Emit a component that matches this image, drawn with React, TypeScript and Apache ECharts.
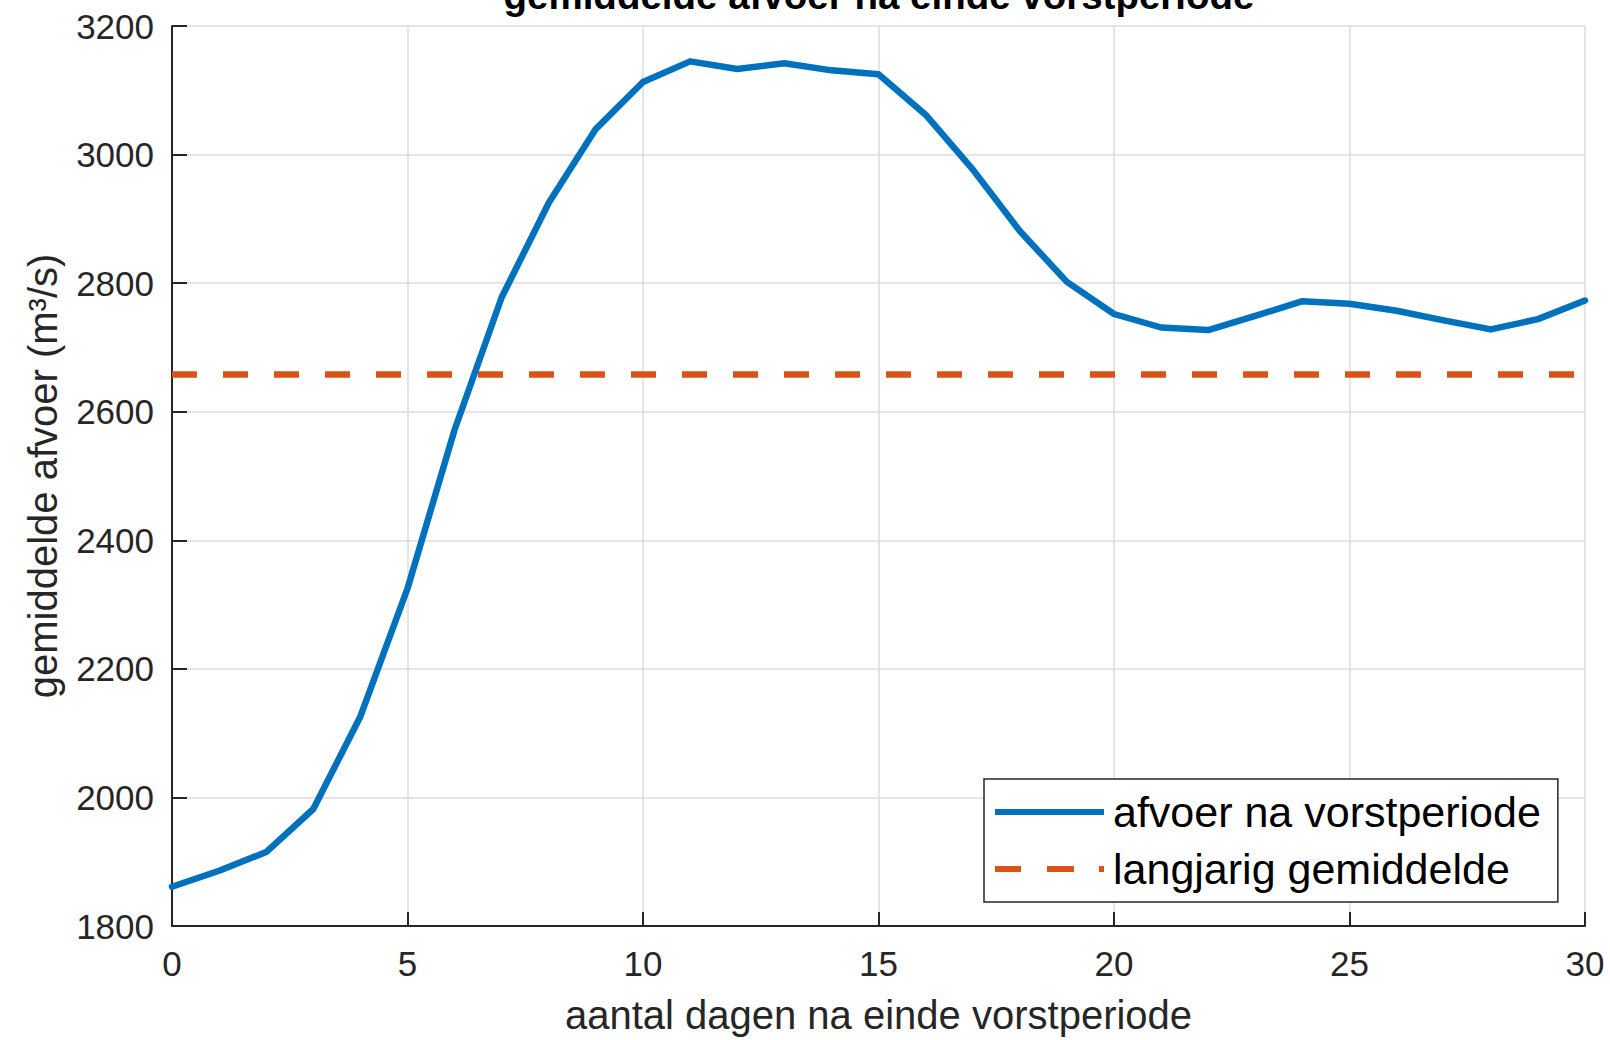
import React, { useEffect, useRef } from "react";
import * as echarts from "echarts";

const days: number[] = [0, 1, 2, 3, 4, 5, 6, 7, 8, 9, 10, 11, 12, 13, 14, 15, 16, 17, 18, 19, 20, 21, 22, 23, 24, 25, 26, 27, 28, 29, 30];
const afvoer: number[] = [1861, 1886, 1915, 1982, 2126, 2325, 2572, 2778, 2925, 3040, 3113, 3145, 3133, 3142, 3131, 3125, 3062, 2977, 2881, 2802, 2752, 2731, 2727, 2749, 2772, 2768, 2757, 2742, 2728, 2744, 2773];
const gemiddelde: number[] = days.map(() => 2658);
const xTicks = { min: 0, max: 30, interval: 5 };
const yTicks = { min: 1800, max: 3200, interval: 200 };

const seriesNames = ["afvoer na vorstperiode", "langjarig gemiddelde"];
const titleText = "gemiddelde afvoer na einde vorstperiode";
const xName = "aantal dagen na einde vorstperiode";
const yName = "gemiddelde afvoer (m³/s)";

const FONT = "'Liberation Sans', Arial, Helvetica, sans-serif";
const AXIS = "#262626";
const GRIDC = "#dcdcdc";
const BLUE = "#0072BD";
const ORANGE = "#D95319";

export default function App() {
  const ref = useRef<HTMLDivElement>(null);
  useEffect(() => {
    if (!ref.current) return;
    const chart = echarts.init(ref.current, null, { renderer: "svg" });
    const option: any = {
      animation: false,
      backgroundColor: "#ffffff",
      textStyle: { fontFamily: FONT },
      graphic: [
        {
          type: "text",
          x: 879,
          y: -5,
          style: {
            text: titleText,
            align: "center",
            verticalAlign: "middle",
            font: `bold 38.5px ${FONT}`,
            fill: "#000000",
          },
        },
      ],
      grid: { left: 172, top: 26, width: 1413, height: 903, containLabel: false },
      legend: {
        orient: "vertical",
        left: 984,
        top: 779,
        padding: [11, 17, 11, 11],
        itemGap: 13,
        itemWidth: 109,
        itemHeight: 6,
        backgroundColor: "#ffffff",
        borderColor: AXIS,
        borderWidth: 1.5,
        borderRadius: 0,
        textStyle: { fontSize: 43, color: "#000000", fontFamily: FONT, lineHeight: 44, padding: [0, 0, 0, 4] },
        data: [
          { name: seriesNames[0], icon: "path://M0,0h109v6h-109z", itemStyle: { color: BLUE } },
          {
            name: seriesNames[1],
            icon: "path://M0,0h26v6h-26zM52,0h27v6h-27zM104,0h5v6h-5z",
            itemStyle: { color: ORANGE },
          },
        ],
      },
      xAxis: {
        type: "value",
        min: xTicks.min,
        max: xTicks.max,
        interval: xTicks.interval,
        name: xName,
        nameLocation: "middle",
        nameGap: 69,
        nameTextStyle: { fontSize: 40, color: AXIS, fontFamily: FONT },
        axisLine: { show: true, onZero: false, lineStyle: { color: AXIS, width: 2 } },
        axisTick: { show: true, inside: true, length: 14, lineStyle: { color: AXIS, width: 2 } },
        axisLabel: { fontSize: 35, color: AXIS, fontFamily: FONT, margin: 20, showMinLabel: true, showMaxLabel: true },
        splitLine: { show: true, showMinLine: true, showMaxLine: true, lineStyle: { color: GRIDC, width: 1.5 } },
      },
      yAxis: {
        type: "value",
        min: yTicks.min,
        max: yTicks.max,
        interval: yTicks.interval,
        name: yName,
        nameLocation: "middle",
        nameGap: 109,
        nameRotate: 90,
        nameTextStyle: { fontSize: 40, color: AXIS, fontFamily: FONT },
        axisLine: { show: true, onZero: false, lineStyle: { color: AXIS, width: 2 } },
        axisTick: { show: true, inside: true, length: 15, lineStyle: { color: AXIS, width: 2 } },
        axisLabel: {
          fontSize: 35,
          color: AXIS,
          fontFamily: FONT,
          margin: 18,
          showMinLabel: true,
          showMaxLabel: true,
          formatter: (v: number) => String(v),
        },
        splitLine: { show: true, showMinLine: true, showMaxLine: true, lineStyle: { color: GRIDC, width: 1.5 } },
      },
      series: [
        {
          name: seriesNames[0],
          type: "line",
          data: days.map((d, i) => [d, afvoer[i]]),
          symbol: "none",
          showSymbol: false,
          lineStyle: { color: BLUE, width: 6.5, join: "round", cap: "round" },
          itemStyle: { color: BLUE },
          z: 3,
        },
        {
          name: seriesNames[1],
          type: "line",
          data: days.map((d, i) => [d, gemiddelde[i]]),
          symbol: "none",
          showSymbol: false,
          lineStyle: { color: ORANGE, width: 6.5, type: [25, 26], cap: "butt" },
          itemStyle: { color: ORANGE },
          z: 2,
        },
      ],
    };
    chart.setOption(option);
    return () => chart.dispose();
  }, []);
  return (
    <div
      ref={ref}
      style={{ position: "fixed", left: 0, top: 0, width: 1610, height: 1040, background: "#ffffff" }}
    />
  );
}
